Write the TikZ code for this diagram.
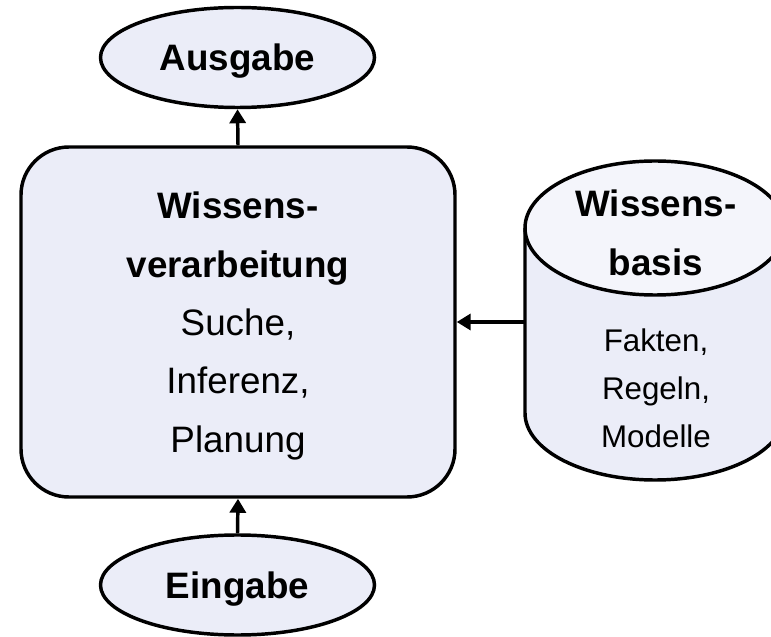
\documentclass[tikz,border=0pt]{standalone}
\usepackage{fontspec}
\setmainfont{Liberation Sans}
\usetikzlibrary{arrows.meta,shapes.geometric}

\definecolor{boxfill}{RGB}{235,237,248}
\definecolor{topfill}{RGB}{244,245,251}

\tikzset{
  outline/.style={draw=black, line width=2.6pt},
  io/.style={outline, ellipse, fill=boxfill, inner sep=0pt,
    minimum width=205.5pt, minimum height=75pt, text depth=0pt,
    font=\fontsize{27.6pt}{33pt}\selectfont\bfseries},
  procbox/.style={outline, rectangle, rounded corners=36pt, fill=boxfill,
    minimum width=325.5pt, minimum height=262.5pt},
  bigtext/.style={text width=300pt, align=center, anchor=base, inner sep=0pt,
    font=\fontsize{27.6pt}{43.7pt}\selectfont},
  smalltext/.style={text width=180pt, align=center, anchor=base, inner sep=0pt,
    font=\fontsize{23.5pt}{36pt}\selectfont},
  flow/.style={line width=2.6pt, -{Triangle[length=10.5pt,width=12pt]}}
}

\begin{document}
\begin{tikzpicture}[x=0.75pt, y=0.75pt]
  \useasboundingbox (0,0) rectangle (771,636);
  \clip (0,0) rectangle (771,636);

  % processing unit
  \node[procbox] (proc) at (238,314) {};
  \node[bigtext] (proctext) at (238,417)
    {\textbf{Wissens-}\\\textbf{verarbeitung}\\Suche,\\Inferenz,\\Planung};

  % output and input
  \node[io] (out) at (237.5,578.5) {Ausgabe};
  \node[io] (in) at (237.5,51) {Eingabe};

  % knowledge base drawn as a cylinder
  \node[minimum width=195pt, minimum height=239pt, inner sep=0pt] (kb) at (655,315.5) {};
  \fill[boxfill] (525,408) -- (525,223)
    arc[start angle=180, end angle=360, x radius=130, y radius=67] -- (785,408) -- cycle;
  \draw[outline] (525,408) -- (525,223)
    arc[start angle=180, end angle=360, x radius=130, y radius=67] -- (785,408);
  \draw[outline, fill=topfill] (655,408) ellipse [x radius=130, y radius=67];
  \node[bigtext, text width=180pt] (kbtitle) at (656,419)
    {\textbf{Wissens-}\\\textbf{basis}};
  \node[smalltext] (kbtext) at (656,284) {Fakten,\\Regeln,\\Modelle};

  % connectors
  \draw[flow] (proc.north) -- (out.south);
  \draw[flow] (in.north) -- (proc.south);
  \draw[flow] (kb.west |- proc.east) -- (proc.east);
\end{tikzpicture}
\end{document}
